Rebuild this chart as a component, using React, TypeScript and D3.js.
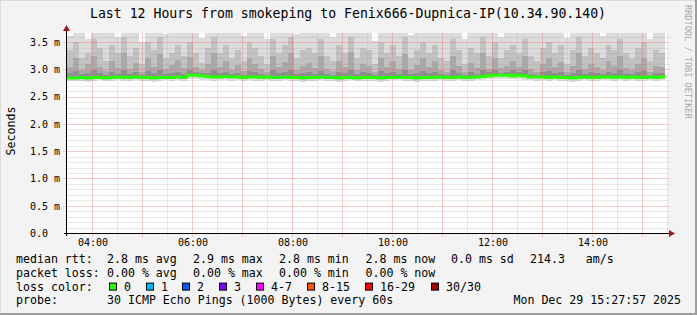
import React from "react";
import * as d3 from "d3";

// ---------- DATA ----------
const startTime = new Date(2025, 11, 29, 3, 30, 0);
const endTime = new Date(2025, 11, 29, 15, 30, 0);
const bucketMinutes = 7.18;

const medianRtt = [
  2.84, 2.84, 2.85, 2.84, 2.85, 2.85, 2.84, 2.85, 2.86, 2.85,
  2.85, 2.86, 2.85, 2.85, 2.84, 2.85, 2.85, 2.85, 2.86, 2.85,
  2.89, 2.89, 2.88, 2.87, 2.86, 2.86, 2.87, 2.86, 2.86, 2.85,
  2.86, 2.86, 2.85, 2.86, 2.85, 2.85, 2.86, 2.85, 2.85, 2.84,
  2.85, 2.85, 2.86, 2.85, 2.85, 2.84, 2.85, 2.85, 2.84, 2.85,
  2.85, 2.85, 2.84, 2.85, 2.85, 2.86, 2.85, 2.85, 2.84, 2.85,
  2.85, 2.85, 2.86, 2.85, 2.85, 2.86, 2.85, 2.85, 2.86, 2.87,
  2.88, 2.89, 2.89, 2.89, 2.88, 2.89, 2.88, 2.86, 2.86, 2.86,
  2.85, 2.86, 2.85, 2.85, 2.84, 2.85, 2.86, 2.85, 2.85, 2.86,
  2.86, 2.85, 2.86, 2.85, 2.86, 2.85, 2.85, 2.86, 2.85, 2.86,
];

const pingMin = [
  2.78, 2.79, 2.78, 2.77, 2.79, 2.80, 2.78, 2.79, 2.80, 2.78,
  2.79, 2.80, 2.78, 2.79, 2.77, 2.79, 2.80, 2.78, 2.80, 2.79,
  2.82, 2.83, 2.81, 2.80, 2.79, 2.80, 2.81, 2.79, 2.80, 2.78,
  2.80, 2.79, 2.78, 2.80, 2.79, 2.78, 2.80, 2.79, 2.78, 2.77,
  2.79, 2.78, 2.80, 2.79, 2.78, 2.77, 2.79, 2.80, 2.78, 2.79,
  2.78, 2.79, 2.77, 2.79, 2.80, 2.80, 2.78, 2.79, 2.77, 2.79,
  2.79, 2.78, 2.80, 2.79, 2.78, 2.80, 2.79, 2.78, 2.80, 2.81,
  2.82, 2.83, 2.82, 2.83, 2.82, 2.82, 2.81, 2.80, 2.79, 2.80,
  2.79, 2.80, 2.78, 2.79, 2.77, 2.79, 2.80, 2.78, 2.79, 2.80,
  2.80, 2.78, 2.80, 2.79, 2.80, 2.78, 2.79, 2.80, 2.78, 2.80,
];

const ping60 = [
  2.93, 2.97, 2.91, 2.94, 2.98, 2.93, 2.90, 2.96, 2.92, 2.99,
  2.92, 2.95, 2.90, 2.97, 2.93, 2.98, 2.91, 2.94, 2.96, 2.92,
  2.98, 2.95, 2.93, 2.94, 2.99, 2.93, 2.96, 2.91, 2.94, 2.90,
  2.97, 2.95, 2.92, 2.90, 2.98, 2.93, 2.96, 2.99, 2.91, 2.93,
  2.95, 2.92, 2.97, 2.92, 2.90, 2.96, 2.93, 2.99, 2.91, 2.95,
  2.93, 2.89, 2.97, 2.93, 2.96, 2.92, 2.99, 2.91, 2.94, 2.97,
  2.93, 2.96, 2.91, 2.90, 2.98, 2.94, 2.89, 2.95, 2.92, 2.99,
  2.95, 2.99, 2.94, 2.96, 2.98, 2.95, 2.99, 2.92, 2.90, 2.95,
  2.97, 2.93, 2.96, 2.89, 2.93, 2.99, 2.92, 2.95, 2.93, 2.91,
  2.96, 2.93, 2.98, 2.92, 2.91, 2.95, 2.97, 2.90, 2.94, 2.93,
];

const ping75 = [
  3.05, 3.20, 2.98, 3.10, 3.25, 3.05, 2.97, 3.15, 3.02, 3.30,
  3.00, 3.12, 2.96, 3.20, 3.05, 3.28, 3.00, 3.08, 3.18, 3.02,
  3.22, 3.05, 2.99, 3.10, 3.30, 3.04, 3.16, 2.99, 3.08, 2.97,
  3.20, 3.10, 3.00, 2.96, 3.25, 3.05, 3.14, 3.30, 2.99, 3.06,
  3.12, 3.03, 3.24, 3.00, 2.97, 3.15, 3.05, 3.32, 2.98, 3.10,
  3.06, 2.95, 3.20, 3.04, 3.16, 3.00, 3.28, 2.98, 3.08, 3.20,
  3.04, 3.15, 2.99, 2.96, 3.24, 3.06, 2.95, 3.12, 3.03, 3.30,
  3.00, 3.20, 3.02, 3.06, 3.16, 3.04, 3.25, 3.00, 2.96, 3.10,
  3.20, 3.04, 3.14, 2.95, 3.06, 3.30, 3.00, 3.10, 3.05, 2.98,
  3.15, 3.06, 3.24, 3.03, 2.98, 3.10, 3.20, 2.96, 3.06, 3.04,
];

const ping90 = [
  3.35, 3.50, 3.20, 3.30, 3.55, 3.40, 3.15, 3.45, 3.30, 3.60,
  3.25, 3.40, 3.10, 3.50, 3.35, 3.60, 3.20, 3.30, 3.45, 3.25,
  3.50, 3.30, 3.12, 3.40, 3.60, 3.30, 3.45, 3.20, 3.35, 3.15,
  3.50, 3.40, 3.25, 3.10, 3.55, 3.30, 3.45, 3.60, 3.20, 3.35,
  3.40, 3.30, 3.55, 3.25, 3.15, 3.45, 3.30, 3.60, 3.20, 3.40,
  3.35, 3.10, 3.50, 3.30, 3.45, 3.25, 3.60, 3.20, 3.35, 3.50,
  3.30, 3.45, 3.20, 3.15, 3.55, 3.35, 3.10, 3.40, 3.30, 3.60,
  3.25, 3.50, 3.20, 3.35, 3.45, 3.30, 3.55, 3.25, 3.15, 3.40,
  3.50, 3.30, 3.45, 3.10, 3.35, 3.60, 3.25, 3.40, 3.30, 3.20,
  3.45, 3.35, 3.55, 3.30, 3.20, 3.40, 3.50, 3.15, 3.35, 3.30,
];

const pingMax = [
  3.62, 3.80, 3.80, 3.55, 3.80, 3.80, 3.70, 3.80, 3.60, 3.80,
  3.80, 3.75, 3.50, 3.80, 3.80, 3.80, 3.65, 3.80, 3.80, 3.80,
  3.80, 3.80, 3.58, 3.80, 3.80, 3.80, 3.80, 3.70, 3.80, 3.62,
  3.80, 3.80, 3.80, 3.55, 3.80, 3.80, 3.80, 3.80, 3.64, 3.80,
  3.80, 3.80, 3.80, 3.80, 3.60, 3.80, 3.80, 3.80, 3.70, 3.80,
  3.80, 3.52, 3.80, 3.80, 3.80, 3.80, 3.80, 3.63, 3.80, 3.80,
  3.80, 3.80, 3.80, 3.66, 3.80, 3.80, 3.56, 3.80, 3.80, 3.80,
  3.80, 3.80, 3.60, 3.80, 3.80, 3.80, 3.80, 3.80, 3.68, 3.80,
  3.80, 3.80, 3.80, 3.57, 3.80, 3.80, 3.80, 3.80, 3.80, 3.62,
  3.80, 3.80, 3.80, 3.80, 3.70, 3.80, 3.80, 3.55, 3.80, 3.80,
];

const yTickValues = [0, 0.5, 1.0, 1.5, 2.0, 2.5, 3.0, 3.5];
const yTickLabels = ["0.0", "0.5 m", "1.0 m", "1.5 m", "2.0 m", "2.5 m", "3.0 m", "3.5 m"];

const titleText = "Last 12 Hours from smokeping to Fenix666-Dupnica-IP(10.34.90.140)";
const yAxisTitle = "Seconds";
const watermark = "RRDTOOL / TOBI OETIKER";

const rttLegend = ["median rtt:", "2.8 ms avg", "2.9 ms max", "2.8 ms min", "2.8 ms now", "0.0 ms sd", "214.3   am/s"];
const lossLegend = ["packet loss:", "0.00 % avg", "0.00 % max", "0.00 % min", "0.00 % now"];
const lossColorTitle = "loss color:";
const lossLabels = ["0", "1", "2", "3", "4-7", "8-15", "16-29", "30/30"];
const lossColors = ["#26ff00", "#00b8ff", "#0059ff", "#7e00ff", "#ff00ff", "#ff5500", "#ff0000", "#a10000"];
const probeTitle = "probe:";
const probeText = "30 ICMP Echo Pings (1000 Bytes) every 60s";
const dateText = "Mon Dec 29 15:27:57 2025";

// ---------- LAYOUT ----------
const W = 697;
const H = 315;
const plotLeft = 67;
const plotRight = 667;
const plotTop = 33;
const plotBottom = 233;
const yMax = 3.666;
const mono = "'DejaVu Sans Mono', monospace";
const rowX = [16, 107, 193, 279, 365.5, 451, 530];
const lossBoxX = [109, 146, 182, 219, 256, 307, 365, 431];
const rowY = [263, 276.8, 290.6, 304.3];

const nb = (s: string) => s.replace(/ /g, "\u00a0");

export default function App() {
  const x = d3.scaleTime().domain([startTime, endTime]).range([plotLeft, plotRight]);
  const y = d3.scaleLinear().domain([0, yMax]).range([plotBottom, plotTop]);
  const tAt = (i: number) => new Date(startTime.getTime() + i * bucketMinutes * 60000);
  const cy = (v: number) => y(Math.min(v, yMax));
  const px = (v: number) => Math.round(v) + 0.5;

  const minorY = d3.range(1, 37).map((d) => d / 10).filter((v) => Math.round(v * 10) % 5 !== 0 && v <= yMax);
  const hourTicks = x.ticks(d3.timeHour.every(1)!).filter((t) => x(t) > plotLeft + 1);
  const halfTicks = x.ticks(d3.timeMinute.every(30)!).filter((t) => t.getMinutes() === 30 && x(t) > plotLeft + 1);
  const labelTicks = x.ticks(d3.timeHour.every(2)!);
  const fmt = d3.timeFormat("%H:%M");

  const layers: { hi: number[]; lo: number[]; color: string }[] = [
    { hi: pingMax, lo: pingMin, color: "#dcdcdc" },
    { hi: ping90, lo: medianRtt, color: "#c2c2c2" },
    { hi: ping75, lo: medianRtt, color: "#a9a9a9" },
    { hi: ping60, lo: medianRtt, color: "#8e8e8e" },
  ];

  const medLine = d3
    .line<number>()
    .x((_, i) => x(tAt(i)))
    .y((d) => y(d))
    .curve(d3.curveStepAfter);
  const medPts = [...medianRtt, medianRtt[medianRtt.length - 1]];

  const minorStroke = "rgba(150,150,150,0.2)";
  const majorStroke = "rgba(235,110,110,0.36)";

  return (
    <svg width={W} height={H} style={{ position: "fixed", left: 0, top: 0, background: "#f3f3f3" }}>
      <rect x={0} y={0} width={W} height={H} fill="#f3f3f3" />
      {/* frame */}
      <rect x={0} y={0} width={W} height={1} fill="#dcdcdc" />
      <rect x={0} y={0} width={1} height={H} fill="#dcdcdc" />
      <rect x={W - 2} y={0} width={2} height={H} fill="#9d9d9d" />
      <rect x={0} y={H - 2} width={W} height={2} fill="#9d9d9d" />

      {/* canvas */}
      <rect x={plotLeft} y={plotTop} width={plotRight - plotLeft + 1} height={plotBottom - plotTop} fill="#ffffff" />

      {/* smoke */}
      <g shapeRendering="crispEdges">
        {layers.map((L, li) =>
          medianRtt.map((_, i) => {
            const x0 = x(tAt(i));
            const x1 = x(tAt(i + 1));
            const top = cy(L.hi[i]);
            const bot = cy(L.lo[i]);
            return (
              <rect key={li + "-" + i} x={x0} y={top} width={x1 - x0} height={Math.max(0, bot - top)} fill={L.color} />
            );
          })
        )}
      </g>

      {/* grid */}
      <g strokeWidth={1}>
        {minorY.map((v) => (
          <line key={"my" + v} x1={plotLeft} x2={plotRight + 3} y1={px(y(v))} y2={px(y(v))} stroke={minorStroke} />
        ))}
        {halfTicks.map((t) => (
          <line key={"mx" + t.getTime()} x1={px(x(t))} x2={px(x(t))} y1={plotTop} y2={plotBottom + 4} stroke={minorStroke} />
        ))}
        {yTickValues.filter((v) => v > 0).map((v) => (
          <line key={"My" + v} x1={plotLeft - 4} x2={plotRight + 3} y1={px(y(v))} y2={px(y(v))} stroke={majorStroke} />
        ))}
        {hourTicks.map((t) => (
          <line key={"Mx" + t.getTime()} x1={px(x(t))} x2={px(x(t))} y1={plotTop} y2={plotBottom + 4} stroke={majorStroke} />
        ))}
      </g>

      {/* median line */}
      <path d={medLine(medPts) || ""} fill="none" stroke="#26ff00" strokeWidth={3} />

      {/* axes */}
      <line x1={plotLeft - 3} x2={plotRight + 3} y1={plotBottom + 0.5} y2={plotBottom + 0.5} stroke="#000" />
      <line x1={plotLeft - 0.5} x2={plotLeft - 0.5} y1={plotBottom + 3} y2={plotTop - 4} stroke="#000" />
      <path d={`M${plotLeft - 4},${plotTop - 2} L${plotLeft + 3},${plotTop - 2} L${plotLeft - 0.5},${plotTop - 8} Z`} fill="#9b1c1c" />
      <path d={`M${plotRight + 2},${plotBottom - 3} L${plotRight + 2},${plotBottom + 4} L${plotRight + 8},${plotBottom + 0.5} Z`} fill="#9b1c1c" />

      {/* tick labels */}
      <g fontFamily={mono} fontSize={10} fill="#000">
        {yTickValues.map((v, i) => (
          <text key={"yl" + v} x={30} y={y(v) + 3.8}>
            {nb(yTickLabels[i])}
          </text>
        ))}
        {labelTicks.map((t) => (
          <text key={"xl" + t.getTime()} x={x(t) + 1} y={245.5} textAnchor="middle">
            {fmt(t)}
          </text>
        ))}
      </g>

      {/* title */}
      <text x={348} y={17.5} textAnchor="middle" fontFamily={mono} fontSize={13.2} fill="#000">
        {titleText}
      </text>
      <text transform={`translate(15,131) rotate(-90)`} textAnchor="middle" fontFamily={mono} fontSize={11.6} fill="#000">
        {yAxisTitle}
      </text>
      <text transform={`translate(684.5,5) rotate(90)`} fontFamily={mono} fontSize={8.6} fill="#aaaaaa">
        {watermark}
      </text>

      {/* legend */}
      <g fontFamily={mono} fontSize={11.6} fill="#000">
        {rttLegend.map((s, i) => (
          <text key={"r" + i} x={rowX[i]} y={rowY[0]}>{nb(s)}</text>
        ))}
        {lossLegend.map((s, i) => (
          <text key={"l" + i} x={rowX[i]} y={rowY[1]}>{nb(s)}</text>
        ))}
        <text x={rowX[0]} y={rowY[2]}>{nb(lossColorTitle)}</text>
        {lossLabels.map((s, i) => (
          <g key={"lc" + i}>
            <rect x={lossBoxX[i] + 0.5} y={rowY[2] - 7.5} width={7} height={7} fill={lossColors[i]} stroke="#000" />
            <text x={lossBoxX[i] + 15} y={rowY[2]}>{s}</text>
          </g>
        ))}
        <text x={rowX[0]} y={rowY[3]}>{nb(probeTitle)}</text>
        <text x={rowX[1]} y={rowY[3]}>{nb(probeText)}</text>
        <text x={681} y={rowY[3]} textAnchor="end">{nb(dateText)}</text>
      </g>
    </svg>
  );
}
